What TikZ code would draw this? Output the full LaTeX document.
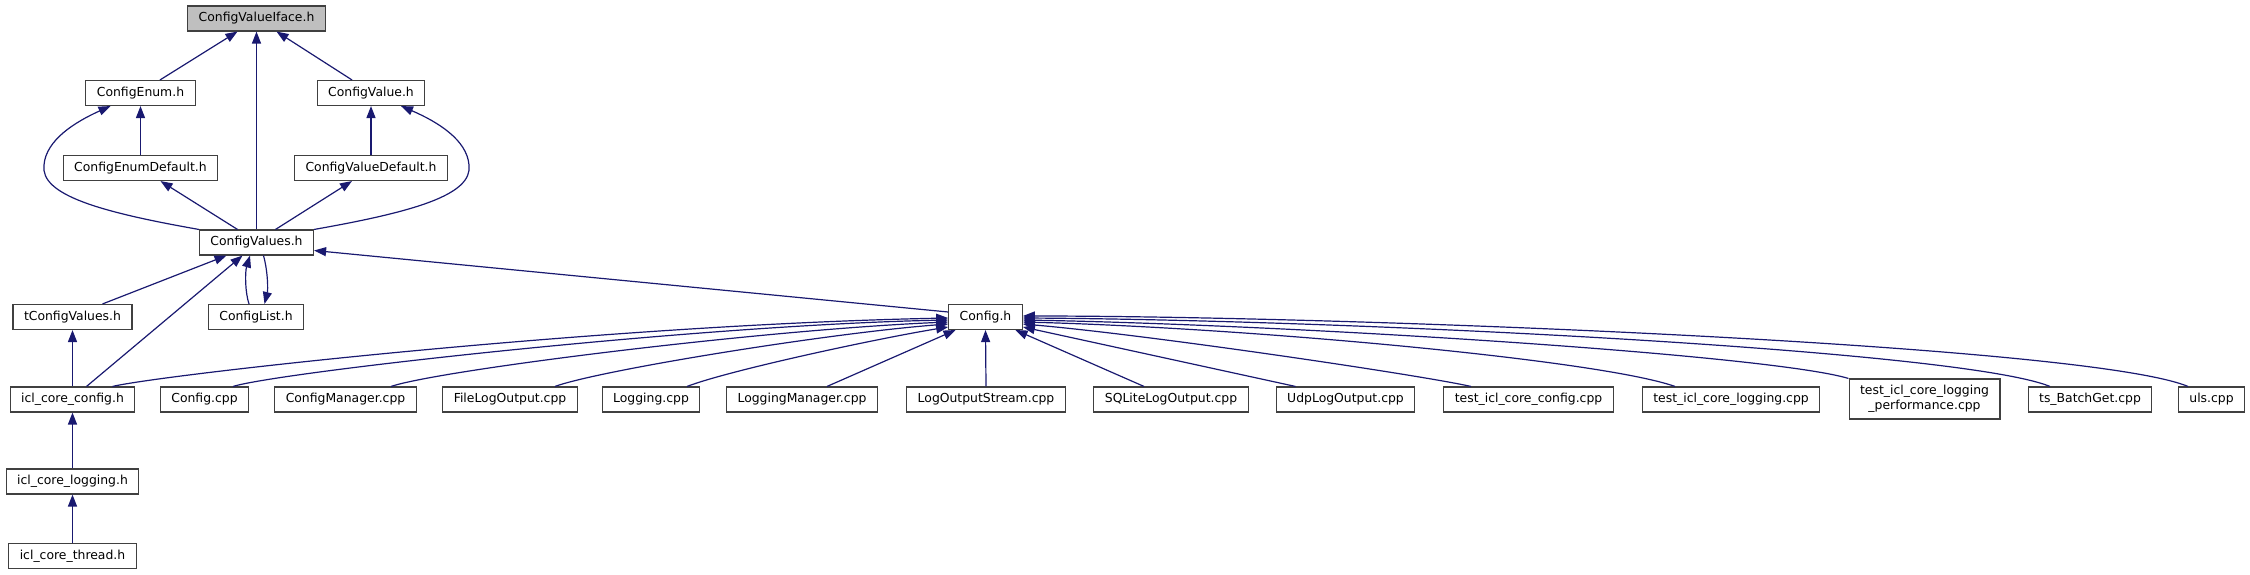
\documentclass[tikz,border=0pt]{standalone}
\usepackage{fontspec}
\setmainfont{DejaVu Sans}
\usetikzlibrary{arrows.meta}
\definecolor{edgeblue}{HTML}{191970}
\definecolor{boxline}{HTML}{404040}
\definecolor{rootfill}{HTML}{BFBFBF}

\begin{document}
\begin{tikzpicture}[x=1pt,y=-1pt]
  \tikzstyle{FileStyle}=[draw=boxline, fill=white, line width=1.1pt,
    minimum height=25pt, inner xsep=11pt, inner ysep=0pt,
    font=\fontsize{12.4}{15}\selectfont]
  \tikzstyle{RootStyle}=[FileStyle, fill=rootfill]
  \tikzstyle{EdgeStyle}=[draw=edgeblue, line width=1.2pt,
    -{Triangle[length=12pt,width=9pt]}]
  \useasboundingbox (0,0) rectangle (2250,575);
  % headers
  \node[RootStyle] (iface)     at (256.5,18.5) {ConfigValueIface.h};
  \node[FileStyle] (cenum)     at (140.5,93)   {ConfigEnum.h};
  \node[FileStyle] (cvalue)    at (371,93)     {ConfigValue.h};
  \node[FileStyle] (cenumdef)  at (140.5,168)  {ConfigEnumDefault.h};
  \node[FileStyle] (cvaluedef) at (371,168)    {ConfigValueDefault.h};
  \node[FileStyle] (cvalues)   at (256.5,242.5) {ConfigValues.h};
  \node[FileStyle] (tcvalues)  at (72.5,317)   {tConfigValues.h};
  \node[FileStyle] (clist)     at (256,317)    {ConfigList.h};
  \node[FileStyle] (configh)   at (985.5,317)  {Config.h};
  \node[FileStyle] (icconfig)  at (72.5,399.5) {icl\_core\_config.h};
  \node[FileStyle] (iclogging) at (72.5,481.5) {icl\_core\_logging.h};
  \node[FileStyle] (icthread)  at (72.5,556)   {icl\_core\_thread.h};
  % sources
  \node[FileStyle] (configcpp) at (204.5,399.5) {Config.cpp};
  \node[FileStyle] (cmanager)  at (345.5,399.5) {ConfigManager.cpp};
  \node[FileStyle] (filelog)   at (510,399.5)   {FileLogOutput.cpp};
  \node[FileStyle] (logging)   at (651,399.5)   {Logging.cpp};
  \node[FileStyle] (logmgr)    at (802,399.5)   {LoggingManager.cpp};
  \node[FileStyle] (logstream) at (986,399.5)   {LogOutputStream.cpp};
  \node[FileStyle] (sqlite)    at (1171,399.5)  {SQLiteLogOutput.cpp};
  \node[FileStyle] (udplog)    at (1345.5,399.5) {UdpLogOutput.cpp};
  \node[FileStyle] (testcfg)   at (1528.5,399.5) {test\_icl\_core\_config.cpp};
  \node[FileStyle] (testlog)   at (1731,399.5)  {test\_icl\_core\_logging.cpp};
  \node[FileStyle, minimum height=40pt, align=center] (testperf) at (1924.5,399)
    {test\_icl\_core\_logging\\\_performance.cpp};
  \node[FileStyle] (batchget)  at (2090,399.5)  {ts\_BatchGet.cpp};
  \node[FileStyle] (uls)       at (2211.5,399.5) {uls.cpp};
  % upper part
  \draw[EdgeStyle] ([xshift=19.5pt]cenum.north) -- ([xshift=-19pt]iface.south);
  \draw[EdgeStyle] ([xshift=-19pt]cvalue.north) -- ([xshift=20pt]iface.south);
  \draw[EdgeStyle] (cvalues.north) -- (iface.south);
  \draw[EdgeStyle] (cenumdef.north) -- (cenum.south);
  \draw[EdgeStyle] (cvaluedef.north) -- (cvalue.south);
  \draw[EdgeStyle] (cvalues.north west) .. controls (100,212) and (40,195) .. (44,165)
    .. controls (46,140) and (75,122) .. ([xshift=-30pt]cenum.south);
  \draw[EdgeStyle] (cvalues.north east) .. controls (413,212) and (473,195) .. (469,165)
    .. controls (467,140) and (438,122) .. ([xshift=30pt]cvalue.south);
  \draw[EdgeStyle] ([xshift=-19pt]cvalues.north) -- ([xshift=20pt]cenumdef.south);
  \draw[EdgeStyle] ([xshift=19pt]cvalues.north) -- ([xshift=-19pt]cvaluedef.south);
  % ConfigValues.h users
  \draw[EdgeStyle] ([xshift=30pt]tcvalues.north) -- ([xshift=-30pt]cvalues.south);
  \draw[EdgeStyle] ([xshift=14pt]icconfig.north) -- ([xshift=-14pt]cvalues.south);
  \draw[EdgeStyle] ([xshift=-7pt]clist.north) .. controls (245,292) and (245,272)
    .. ([xshift=-6.5pt]cvalues.south);
  \draw[EdgeStyle] ([xshift=7pt]cvalues.south) .. controls (268,272) and (268,290)
    .. ([xshift=8.5pt]clist.north);
  \draw[EdgeStyle] ([yshift=5pt]configh.west) -- ([yshift=-8pt]cvalues.east);
  % left column
  \draw[EdgeStyle] (icconfig.north) -- (tcvalues.south);
  \draw[EdgeStyle] (iclogging.north) -- (icconfig.south);
  \draw[EdgeStyle] (icthread.north) -- (iclogging.south);
  % Config.h users
  \draw[EdgeStyle] ([xshift=40pt]icconfig.north) .. controls (160,375) and (600,325)
    .. ([yshift=-1pt]configh.west);
  \draw[EdgeStyle] ([xshift=28.5pt]configcpp.north) .. controls (280,372) and (700,325)
    .. ([yshift=-3pt]configh.west);
  \draw[EdgeStyle] ([xshift=45.5pt]cmanager.north) .. controls (440,370) and (760,330)
    .. ([yshift=-5pt]configh.west);
  \draw[EdgeStyle] ([xshift=45pt]filelog.north) .. controls (600,370) and (830,333)
    .. ([yshift=-7pt]configh.west);
  \draw[EdgeStyle] ([xshift=36pt]logging.north) .. controls (730,370) and (880,338)
    .. ([yshift=-10pt]configh.west);
  \draw[EdgeStyle] ([xshift=25pt]logmgr.north) -- ([xshift=-30pt]configh.south);
  \draw[EdgeStyle] (logstream.north) -- (configh.south);
  \draw[EdgeStyle] ([xshift=-27pt]sqlite.north) -- ([xshift=30pt]configh.south);
  \draw[EdgeStyle] ([xshift=-50pt]udplog.north) -- ([yshift=-10pt]configh.east);
  \draw[EdgeStyle] ([xshift=-57.5pt]testcfg.north) .. controls (1420,375) and (1150,335)
    .. ([yshift=-7pt]configh.east);
  \draw[EdgeStyle] ([xshift=-56pt]testlog.north) .. controls (1600,360) and (1250,328)
    .. ([yshift=-5pt]configh.east);
  \draw[EdgeStyle] (testperf.north west) .. controls (1770,355) and (1300,325)
    .. ([yshift=-3pt]configh.east);
  \draw[EdgeStyle] ([xshift=-40pt]batchget.north) .. controls (1960,350) and (1350,320)
    .. ([yshift=-1pt]configh.east);
  \draw[EdgeStyle] ([xshift=-23.5pt]uls.north) .. controls (2088,345) and (1350,316)
    .. ([yshift=1pt]configh.east);
\end{tikzpicture}
\end{document}
